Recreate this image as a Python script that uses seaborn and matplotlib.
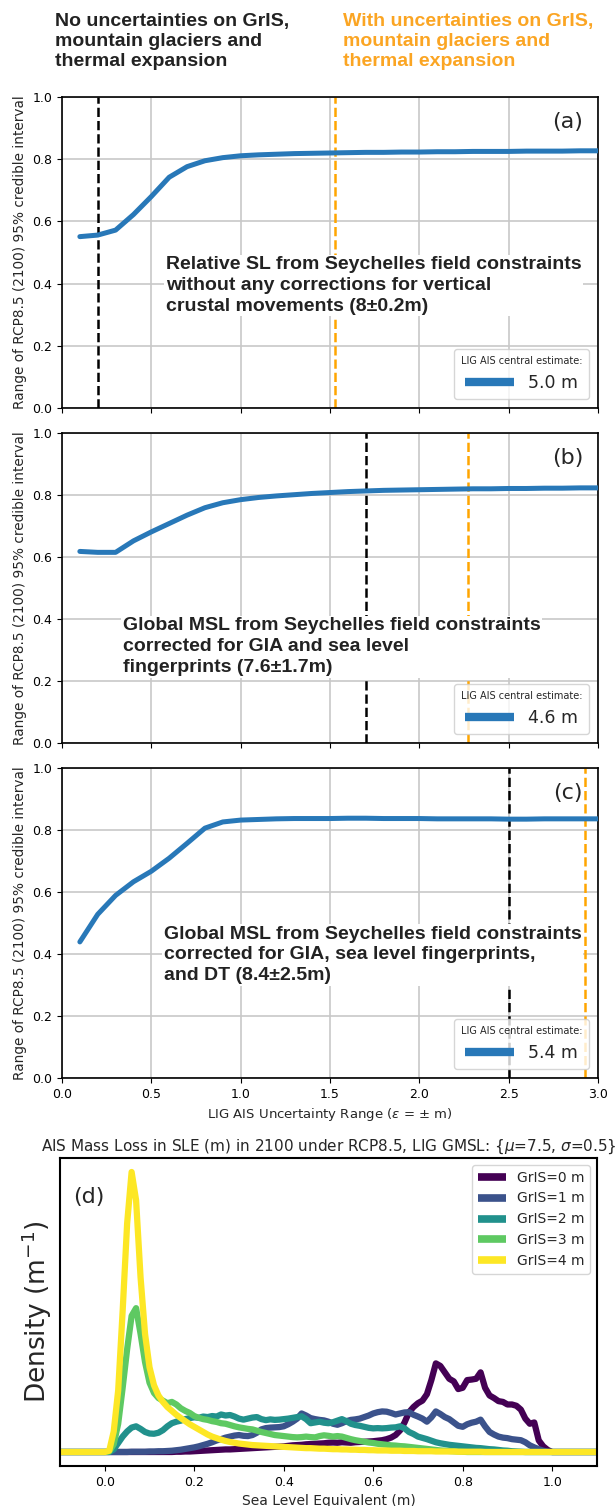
import numpy as np
import matplotlib
matplotlib.use("Agg")
import matplotlib.pyplot as plt
import seaborn as sns

# ---------------- data: panels (a)-(c) ----------------
eps = [0.1, 0.2, 0.3, 0.4, 0.5, 0.6, 0.7, 0.8, 0.9, 1.0,
       1.1, 1.2, 1.3, 1.4, 1.5, 1.6, 1.7, 1.8, 1.9, 2.0,
       2.1, 2.2, 2.3, 2.4, 2.5, 2.6, 2.7, 2.8, 2.9, 3.0]

range_a = [0.551, 0.556, 0.572, 0.622, 0.680, 0.742, 0.776, 0.795, 0.805, 0.811,
           0.814, 0.816, 0.818, 0.819, 0.820, 0.821, 0.822, 0.822, 0.823, 0.823,
           0.824, 0.824, 0.825, 0.825, 0.825, 0.826, 0.826, 0.826, 0.827, 0.827]
range_b = [0.618, 0.615, 0.615, 0.652, 0.681, 0.708, 0.735, 0.759, 0.775, 0.785,
           0.792, 0.797, 0.801, 0.805, 0.808, 0.811, 0.813, 0.815, 0.816, 0.817,
           0.818, 0.819, 0.820, 0.820, 0.821, 0.821, 0.822, 0.822, 0.823, 0.823]
range_c = [0.439, 0.528, 0.589, 0.633, 0.667, 0.709, 0.757, 0.806, 0.826, 0.832,
           0.834, 0.836, 0.837, 0.837, 0.837, 0.838, 0.838, 0.837, 0.837, 0.837,
           0.836, 0.836, 0.836, 0.836, 0.835, 0.835, 0.836, 0.836, 0.836, 0.836]

panel_ranges = [range_a, range_b, range_c]
panel_tags = ["(a)", "(b)", "(c)"]
central_labels = ["5.0 m", "4.6 m", "5.4 m"]
black_vlines = [0.2, 1.7, 2.5]
orange_vlines = [1.53, 2.27, 2.93]
panel_notes = [
    "Relative SL from Seychelles field constraints\nwithout any corrections for vertical\ncrustal movements (8\u00b10.2m)",
    "Global MSL from Seychelles field constraints\ncorrected for GIA and sea level\nfingerprints (7.6\u00b11.7m)",
    "Global MSL from Seychelles field constraints\ncorrected for GIA, sea level fingerprints,\nand DT (8.4\u00b12.5m)",
]
note_pos = [(0.58, 0.394), (0.34, 0.31), (0.57, 0.397)]

header_black = "No uncertainties on GrIS,\nmountain glaciers and\nthermal expansion"
header_orange = "With uncertainties on GrIS,\nmountain glaciers and\nthermal expansion"

# ---------------- data: panel (d) ----------------
sle_grid = np.round(np.arange(0, 101) / 100.0, 2)

dens_g0 = [0, 0, 0, 0, 0, 0, 0, 0, 0, 0,
           0, 0, 0, 0, 0, 0, 0.01, 0.01, 0.02, 0.02,
           0.03, 0.04, 0.05, 0.06, 0.07, 0.08, 0.09, 0.1, 0.1, 0.11,
           0.12, 0.13, 0.14, 0.15, 0.16, 0.17, 0.18, 0.19, 0.2, 0.21,
           0.22, 0.24, 0.26, 0.27, 0.28, 0.3, 0.31, 0.32, 0.33, 0.34,
           0.36, 0.37, 0.36, 0.38, 0.37, 0.36, 0.38, 0.39, 0.4, 0.41,
           0.42, 0.44, 0.46, 0.5, 0.56, 0.66, 0.84, 1.15, 1.55, 1.75,
           1.9, 2.0, 2.25, 2.8, 3.45, 3.35, 3.1, 2.85, 2.75, 2.45,
           2.5, 2.8, 2.82, 2.85, 3.1, 2.5, 2.2, 2.1, 1.98, 1.95,
           1.85, 1.85, 1.8, 1.65, 1.3, 1.1, 1.15, 0.45, 0.22, 0.08,
           0]
dens_g1 = [0, 0, 0, 0, 0, 0, 0.01, 0.01, 0.01, 0.01,
           0.02, 0.02, 0.03, 0.03, 0.04, 0.05, 0.07, 0.09, 0.12, 0.15,
           0.18, 0.22, 0.27, 0.32, 0.38, 0.45, 0.5, 0.56, 0.6, 0.64,
           0.66, 0.63, 0.62, 0.66, 0.75, 0.88, 0.93, 0.95, 0.96, 0.97,
           1.0, 1.08, 1.18, 1.3, 1.5, 1.42, 1.32, 1.28, 1.25, 1.23,
           1.18, 1.1, 1.06, 1.12, 1.2, 1.25, 1.27, 1.3, 1.36, 1.42,
           1.5, 1.55, 1.58, 1.57, 1.52, 1.46, 1.5, 1.54, 1.55, 1.45,
           1.38, 1.3, 1.18, 1.35, 1.58, 1.48, 1.36, 1.28, 1.15, 1.02,
           0.98, 1.08, 1.14, 1.18, 1.26, 1.0, 0.78, 0.68, 0.6, 0.56,
           0.54, 0.5, 0.48, 0.46, 0.38, 0.26, 0.18, 0.11, 0.05, 0.01,
           0]
dens_g2 = [0, 0, 0.1, 0.35, 0.6, 0.8, 0.95, 1.0, 0.9, 0.78,
           0.72, 0.71, 0.75, 0.85, 1.0, 1.12, 1.18, 1.22, 1.28, 1.32,
           1.35, 1.33, 1.38, 1.36, 1.40, 1.38, 1.46, 1.42, 1.44, 1.38,
           1.30, 1.26, 1.30, 1.34, 1.36, 1.28, 1.24, 1.27, 1.25, 1.26,
           1.28, 1.30, 1.33, 1.36, 1.39, 1.28, 1.12, 1.15, 1.18, 1.14,
           1.12, 1.16, 1.22, 1.28, 1.2, 1.1, 1.05, 1.02, 0.98, 0.94,
           0.92, 0.93, 0.92, 0.93, 0.95, 0.96, 1.0, 0.92, 0.78, 0.70,
           0.60, 0.55, 0.50, 0.44, 0.38, 0.34, 0.31, 0.28, 0.26, 0.24,
           0.22, 0.20, 0.18, 0.16, 0.15, 0.13, 0.11, 0.10, 0.08, 0.06,
           0.05, 0.03, 0.02, 0.01, 0, 0, 0, 0, 0, 0,
           0]
dens_g3 = [0, 0.02, 0.3, 1.1, 2.5, 4.0, 5.3, 5.6, 4.6, 3.5,
           2.7, 2.3, 2.1, 2.0, 1.9, 1.95, 1.85, 1.7, 1.6, 1.52,
           1.4, 1.33, 1.28, 1.25, 1.2, 1.17, 1.12, 1.1, 1.05, 1.0,
           0.96, 0.93, 0.9, 0.88, 0.83, 0.78, 0.74, 0.7, 0.66, 0.64,
           0.62, 0.6, 0.58, 0.57, 0.58, 0.6, 0.58, 0.57, 0.62, 0.65,
           0.63, 0.6, 0.62, 0.6, 0.55, 0.5, 0.46, 0.43, 0.4, 0.37,
           0.35, 0.32, 0.3, 0.28, 0.26, 0.25, 0.23, 0.22, 0.2, 0.18,
           0.16, 0.14, 0.12, 0.1, 0.08, 0.06, 0.05, 0.04, 0.03, 0.02,
           0.01, 0, 0, 0, 0, 0, 0, 0, 0, 0,
           0, 0, 0, 0, 0, 0, 0, 0, 0, 0,
           0]
dens_g4 = [0, 0.05, 0.8, 2.4, 5.5, 8.9, 10.9, 9.8, 6.8, 4.6,
           3.3, 2.6, 2.2, 1.95, 1.75, 1.6, 1.45, 1.32, 1.2, 1.08,
           0.98, 0.88, 0.78, 0.68, 0.6, 0.54, 0.48, 0.43, 0.39, 0.36,
           0.33, 0.31, 0.29, 0.27, 0.26, 0.25, 0.24, 0.23, 0.22, 0.21,
           0.20, 0.19, 0.18, 0.17, 0.16, 0.15, 0.15, 0.14, 0.13, 0.13,
           0.12, 0.11, 0.11, 0.10, 0.10, 0.09, 0.09, 0.08, 0.08, 0.07,
           0.07, 0.06, 0.06, 0.06, 0.05, 0.05, 0.05, 0.04, 0.04, 0.04,
           0.03, 0.03, 0.03, 0.03, 0.02, 0.02, 0.02, 0.02, 0.02, 0.01,
           0.01, 0.01, 0.01, 0.01, 0.01, 0, 0, 0, 0, 0,
           0, 0, 0, 0, 0, 0, 0, 0, 0, 0,
           0]

gris_labels = ["GrIS=0 m", "GrIS=1 m", "GrIS=2 m", "GrIS=3 m", "GrIS=4 m"]
gris_dens = [dens_g0, dens_g1, dens_g2, dens_g3, dens_g4]
gris_colors = ["#440154", "#3b528b", "#21918c", "#5ec962", "#fde725"]

# ---------------- style ----------------
sns.set_style("ticks")
plt.rcParams.update({
    "axes.edgecolor": "black",
    "axes.linewidth": 1.2,
    "xtick.color": "black",
    "ytick.color": "black",
    "xtick.direction": "out",
    "ytick.direction": "out",
    "font.family": ["DejaVu Sans"],
})

BLUE = "#2878b8"
ORANGE = "#fba523"
BOLD_FONT = ["Liberation Sans", "DejaVu Sans"]

fig = plt.figure(figsize=(6.15, 15.06), dpi=100)

fig.text(0.0894, 0.9915, header_black, ha="left", va="top", fontsize=14,
         fontweight="bold", family=BOLD_FONT, color="#222222", linespacing=1.22)
fig.text(0.558, 0.9915, header_orange, ha="left", va="top", fontsize=14,
         fontweight="bold", family=BOLD_FONT, color=ORANGE, linespacing=1.22)

ax_boxes = [
    [0.1008, 1 - 408 / 1506, 0.8715, 311 / 1506],
    [0.1008, 1 - 743 / 1506, 0.8715, 310 / 1506],
    [0.1008, 1 - 1078 / 1506, 0.8715, 310 / 1506],
]

for i in range(3):
    ax = fig.add_axes(ax_boxes[i])
    ax.grid(True, color="#c8c8c8", linewidth=1.2, zorder=0)
    ax.set_axisbelow(True)
    sns.lineplot(x=eps, y=panel_ranges[i], ax=ax, color=BLUE, linewidth=3.6,
                 label=central_labels[i], zorder=3)
    ax.axvline(black_vlines[i], color="black", linestyle="--", linewidth=1.8, zorder=2)
    ax.axvline(orange_vlines[i], color="orange", linestyle="--", linewidth=1.8, zorder=2)
    ax.set_xlim(0, 3.0)
    ax.set_ylim(0, 1.0)
    ax.set_xticks([0.0, 0.5, 1.0, 1.5, 2.0, 2.5, 3.0])
    ax.set_yticks([0.0, 0.2, 0.4, 0.6, 0.8, 1.0])
    ax.tick_params(labelsize=9)
    ax.set_ylabel("Range of RCP8.5 (2100) 95% credible interval", fontsize=9.8)
    if i < 2:
        ax.tick_params(labelbottom=False)
        ax.set_xlabel("")
    else:
        ax.set_xlabel("LIG AIS Uncertainty Range ($\\epsilon$ = $\\pm$ m)", fontsize=9.5)
    ax.text(0.943, 0.92, panel_tags[i], transform=ax.transAxes, ha="center",
            va="center", fontsize=16)
    nx, ny = note_pos[i]
    ax.text(nx, ny, panel_notes[i], ha="left", va="center", fontsize=14,
            fontweight="bold", family=BOLD_FONT, color="#222222", zorder=5,
            linespacing=1.3,
            bbox=dict(facecolor="white", edgecolor="none", pad=1.0))
    leg = ax.legend(title="LIG AIS central estimate:", loc="lower right",
                    fontsize=12.5, title_fontsize=7, handlelength=2.8)
    for ln in leg.get_lines():
        ln.set_linewidth(6)
        ln.set_solid_capstyle("butt")
    leg.set_zorder(6)

# ---------------- panel (d) ----------------
axd = fig.add_axes([0.0976, 1 - 1466 / 1506, 0.873, 308 / 1506])
x_full = np.concatenate([[-0.1], sle_grid, [1.1]])
for lab, dens, col in zip(gris_labels, gris_dens, gris_colors):
    y_full = np.concatenate([[0.0], np.asarray(dens, float), [0.0]])
    sns.lineplot(x=x_full, y=y_full, ax=axd, color=col, linewidth=4.5, label=lab)
axd.set_xlim(-0.1, 1.1)
axd.set_xticks([0.0, 0.2, 0.4, 0.6, 0.8, 1.0])
axd.set_yticks([])
axd.tick_params(labelsize=9)
for s in axd.spines.values():
    s.set_linewidth(1.5)
axd.set_xlabel("Sea Level Equivalent (m)", fontsize=10)
axd.set_ylabel("Density (m$^{-1}$)", fontsize=19)
axd.set_title("AIS Mass Loss in SLE (m) in 2100 under RCP8.5, LIG GMSL: {$\\mu$=7.5, $\\sigma$=0.5}",
              fontsize=11, pad=5)
axd.text(0.053, 0.873, "(d)", transform=axd.transAxes, ha="center", va="center", fontsize=16)
legd = axd.legend(loc="upper right", fontsize=10)
for ln in legd.get_lines():
    ln.set_linewidth(5.5)
    ln.set_solid_capstyle("butt")

fig.savefig("out.png", dpi=100)
